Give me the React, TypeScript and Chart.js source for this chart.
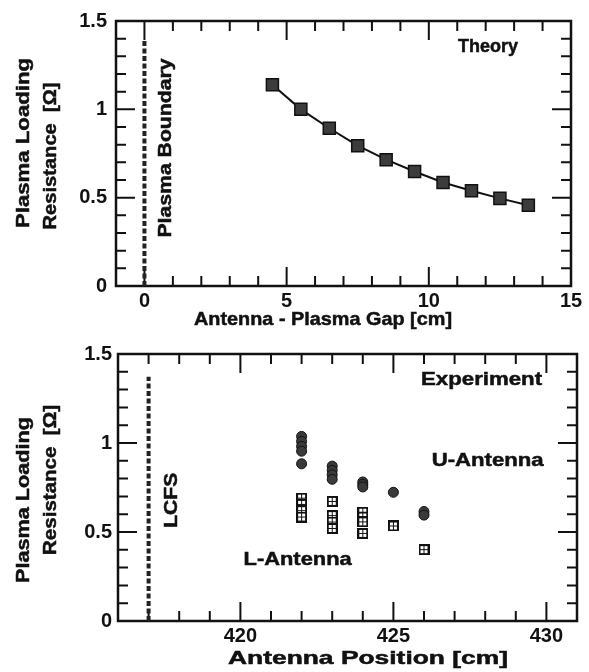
import React, { useEffect, useRef } from 'react';
import { Chart, registerables } from 'chart.js';

Chart.register(...registerables);

// ---------- data: theory panel ----------
const THEORY_GAP = [4.5, 5.5, 6.5, 7.5, 8.5, 9.5, 10.5, 11.5, 12.5, 13.5];
const THEORY_R = [1.139, 1.0, 0.893, 0.794, 0.715, 0.648, 0.586, 0.539, 0.496, 0.457];
const BOUNDARY_GAP = [0, 0];
const BOUNDARY_R = [0, 1.388];
const GAP_TICKS = [0, 5, 10, 15];
const R_TICKS = [0, 0.5, 1, 1.5];

// ---------- data: experiment panel ----------
const U_POS = [422, 422, 422, 422, 422, 423, 423, 423, 423, 424, 424, 424, 425, 426, 426];
const U_R = [1.037, 1.009, 0.981, 0.954, 0.883, 0.87, 0.846, 0.821, 0.796, 0.781, 0.767, 0.753, 0.723, 0.615, 0.595];
const L_POS = [422, 422, 422, 422, 423, 423, 423, 423, 424, 424, 424, 424, 425, 426];
const L_R = [0.69, 0.655, 0.62, 0.584, 0.672, 0.592, 0.556, 0.52, 0.611, 0.584, 0.557, 0.492, 0.534, 0.401];
const LCFS_POS = [417, 417];
const LCFS_R = [0, 1.372];
const POS_TICKS = [420, 425, 430];

const FONT = '"Liberation Sans", Arial, Helvetica, sans-serif';
const INK = '#111';

type Note = {
  text: string;
  x?: number; y?: number;   // data coordinates
  px?: number; py?: number; // canvas pixel coordinates
  size: number; width: number; rot?: number;
};

const pts = (xs: number[], ys: number[]) => xs.map((x, i) => ({ x, y: ys[i] }));

function drawNote(ctx: CanvasRenderingContext2D, n: Note, cx: number, cy: number) {
  ctx.save();
  ctx.font = `bold ${n.size}px ${FONT}`;
  const w = ctx.measureText(n.text).width;
  const sx = n.width ? n.width / w : 1;
  ctx.translate(cx, cy);
  if (n.rot) ctx.rotate((n.rot * Math.PI) / 180);
  ctx.scale(sx, 1);
  ctx.textAlign = 'center';
  ctx.textBaseline = 'middle';
  ctx.fillStyle = INK;
  ctx.strokeStyle = INK;
  ctx.lineWidth = 0.5;
  ctx.fillText(n.text, 0, 0);
  ctx.strokeText(n.text, 0, 0);
  ctx.restore();
}

const framePlugin = {
  id: 'frame',
  beforeDatasetsDraw(chart: any, _args: any, opts: any) {
    const { ctx, chartArea } = chart;
    const { left, right, top, bottom } = chartArea;
    const xs = chart.scales.x;
    const ys = chart.scales.y;
    ctx.save();
    ctx.strokeStyle = INK;
    ctx.lineWidth = 2;
    const drawTicks = (scale: any, step: number, majors: number[], horiz: boolean) => {
      const n = Math.round((scale.max - scale.min) / step);
      for (let i = 1; i < n; i++) {
        const v = scale.min + i * step;
        const major = majors.some((m) => Math.abs(m - v) < step / 10);
        const len = major ? 19 : 10;
        const p = scale.getPixelForValue(v);
        ctx.beginPath();
        if (horiz) {
          ctx.moveTo(p, bottom); ctx.lineTo(p, bottom - len);
          ctx.moveTo(p, top); ctx.lineTo(p, top + len);
        } else {
          ctx.moveTo(left, p); ctx.lineTo(left + len, p);
          ctx.moveTo(right, p); ctx.lineTo(right - len, p);
        }
        ctx.stroke();
      }
    };
    drawTicks(xs, opts.xStep, opts.xMajor, true);
    drawTicks(ys, opts.yStep, opts.yMajor, false);
    ctx.lineWidth = 2.5;
    ctx.strokeRect(left, top, right - left, bottom - top);
    ctx.restore();
  },
  afterDatasetsDraw(chart: any, _args: any, opts: any) {
    const { ctx } = chart;
    const xs = chart.scales.x;
    const ys = chart.scales.y;
    (opts.notes as Note[]).forEach((n) => {
      const cx = n.x !== undefined ? xs.getPixelForValue(n.x) : (n.px as number);
      const cy = n.y !== undefined ? ys.getPixelForValue(n.y) : (n.py as number);
      drawNote(ctx, n, cx, cy);
    });
  },
};

function tickFont() {
  return { family: FONT, size: 20, weight: 'bold' as const, lineHeight: 1.2 };
}

function baseOptions(p: {
  xMin: number; xMax: number; xTicks: number[]; yWidth: number; xHeight: number;
  pad: { top: number; right: number }; yPad: number; notes: Note[];
}) {
  return {
    animation: false as const,
    responsive: false,
    events: [] as any[],
    layout: { padding: { top: p.pad.top, right: p.pad.right, left: 0, bottom: 0 } },
    plugins: {
      legend: { display: false },
      tooltip: { enabled: false },
      frame: { xStep: 1, yStep: 0.1, xMajor: p.xTicks, yMajor: R_TICKS, notes: p.notes },
    },
    scales: {
      x: {
        type: 'linear' as const,
        min: p.xMin,
        max: p.xMax,
        afterBuildTicks: (s: any) => { s.ticks = p.xTicks.map((v) => ({ value: v })); },
        afterFit: (s: any) => { s.height = p.xHeight; },
        grid: { display: false, drawTicks: false },
        border: { display: false },
        ticks: { padding: 3.5, font: tickFont(), color: INK, autoSkip: false, maxRotation: 0, callback: (v: any) => String(v) },
      },
      y: {
        type: 'linear' as const,
        min: 0,
        max: 1.5,
        afterBuildTicks: (s: any) => { s.ticks = R_TICKS.map((v) => ({ value: v })); },
        afterFit: (s: any) => { s.width = p.yWidth; },
        grid: { display: false, drawTicks: false },
        border: { display: false },
        ticks: { padding: p.yPad, font: tickFont(), color: INK, autoSkip: false, callback: (v: any) => String(v) },
      },
    },
  };
}

function makeCrossSquare(): HTMLCanvasElement {
  const c = document.createElement('canvas');
  c.width = 11;
  c.height = 11;
  const g = c.getContext('2d') as CanvasRenderingContext2D;
  g.fillStyle = INK;
  g.fillRect(0, 0, 11, 11);
  g.fillStyle = '#fff';
  [[2, 2], [6, 2], [2, 6], [6, 6]].forEach(([x, y]) => g.fillRect(x, y, 3, 3));
  return c;
}

export default function App() {
  const topRef = useRef<HTMLCanvasElement>(null);
  const botRef = useRef<HTMLCanvasElement>(null);

  useEffect(() => {
    const topNotes: Note[] = [
      { text: 'Plasma Loading', px: 24, py: 143, size: 18.5, width: 170, rot: -90 },
      { text: 'Resistance  [Ω]', px: 51, py: 156, size: 18.5, width: 147, rot: -90 },
      { text: 'Antenna - Plasma Gap [cm]', px: 323, py: 320, size: 19, width: 258 },
      { text: 'Theory', x: 12.08, y: 1.354, size: 18.5, width: 60 },
      { text: 'Plasma Boundary', x: 0.758, y: 0.781, size: 18.5, width: 179, rot: -90 },
    ];
    const botNotes: Note[] = [
      { text: 'Plasma Loading', px: 24, py: 164, size: 18.5, width: 166, rot: -90 },
      { text: 'Resistance  [Ω]', px: 51, py: 144, size: 18.5, width: 150, rot: -90 },
      { text: 'Antenna Position [cm]', px: 368, py: 322.5, size: 18.5, width: 280 },
      { text: 'Experiment', x: 427.88, y: 1.355, size: 18.5, width: 121 },
      { text: 'U-Antenna', x: 428.08, y: 0.898, size: 18.5, width: 112 },
      { text: 'L-Antenna', x: 421.87, y: 0.343, size: 18.5, width: 108 },
      { text: 'LCFS', x: 417.75, y: 0.678, size: 18.5, width: 55, rot: -90 },
    ];

    const top = new Chart(topRef.current as HTMLCanvasElement, {
      type: 'scatter',
      data: {
        datasets: [
          {
            data: pts(THEORY_GAP, THEORY_R),
            showLine: true,
            borderColor: INK,
            borderWidth: 2,
            pointStyle: 'rect',
            pointRadius: 8.5,
            pointBackgroundColor: '#3c3c3c',
            pointBorderColor: INK,
            pointBorderWidth: 1.5,
          },
          {
            data: pts(BOUNDARY_GAP, BOUNDARY_R),
            showLine: true,
            borderColor: '#222',
            borderWidth: 4,
            borderDash: [5, 2.5],
            pointRadius: 0,
          },
        ],
      },
      options: baseOptions({
        xMin: -1, xMax: 15, xTicks: GAP_TICKS, yWidth: 116, xHeight: 50,
        pad: { top: 19, right: 18 }, yPad: 9, notes: topNotes,
      }) as any,
      plugins: [framePlugin],
    });

    const cross = makeCrossSquare();
    const bot = new Chart(botRef.current as HTMLCanvasElement, {
      type: 'scatter',
      data: {
        datasets: [
          {
            data: pts(U_POS, U_R),
            pointStyle: 'circle',
            pointRadius: 5,
            pointBackgroundColor: '#3a3a3a',
            pointBorderColor: INK,
            pointBorderWidth: 1,
          },
          {
            data: pts(L_POS, L_R),
            pointStyle: cross as any,
            pointRadius: 5,
          },
          {
            data: pts(LCFS_POS, LCFS_R),
            showLine: true,
            borderColor: '#222',
            borderWidth: 4,
            borderDash: [5, 2.5],
            pointRadius: 0,
          },
        ],
      },
      options: baseOptions({
        xMin: 416, xMax: 431, xTicks: POS_TICKS, yWidth: 118, xHeight: 51,
        pad: { top: 16, right: 12 }, yPad: 6, notes: botNotes,
      }) as any,
      plugins: [framePlugin],
    });

    return () => {
      top.destroy();
      bot.destroy();
    };
  }, []);

  return (
    <div style={{ position: 'absolute', left: 0, top: 0, width: 589, height: 672, background: '#fff' }}>
      <canvas ref={topRef} width={589} height={336} style={{ display: 'block', width: 589, height: 336 }} />
      <canvas ref={botRef} width={589} height={336} style={{ display: 'block', width: 589, height: 336 }} />
    </div>
  );
}
